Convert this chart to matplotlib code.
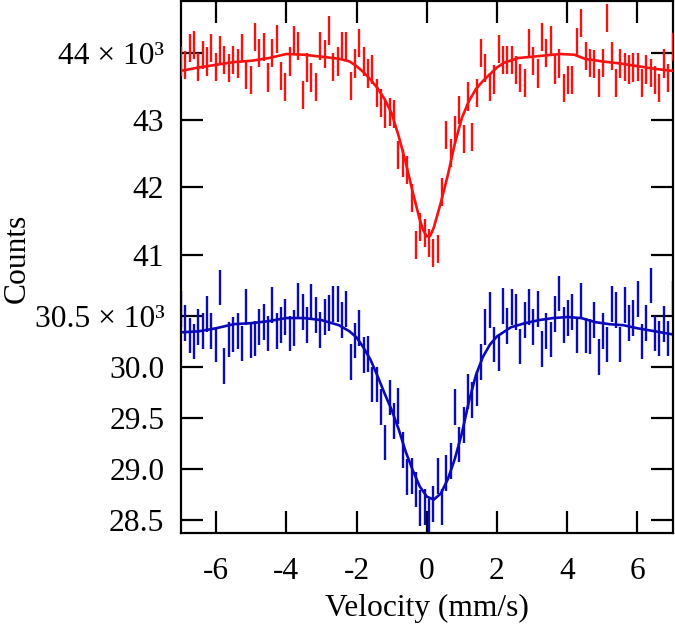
import numpy as np
import matplotlib
matplotlib.use("Agg")
import matplotlib.pyplot as plt
from matplotlib.ticker import FixedLocator, FixedFormatter

# ---------------- data (counts in units of 10^3) ----------------
n_channels = 114
velocity = np.linspace(-7.0, 7.0, n_channels)

red_counts = [
    43.87, 43.82, 44.07, 44.11, 43.79, 43.97, 43.87, 44.07, 43.79, 44.04,
    43.89, 43.77, 43.89, 43.84, 44.07, 43.67, 43.59, 44.23, 43.99, 44.08,
    43.63, 44.00, 44.20, 43.65, 43.49, 43.87, 44.18, 44.10, 43.37, 43.78,
    43.63, 43.49, 44.10, 43.98, 44.33, 43.79, 43.87, 44.10,
    44.09, 43.51, 43.84, 44.14, 43.87, 43.69, 43.75, 43.40, 43.25, 43.09,
    43.12, 43.09, 42.48, 42.36, 42.26, 41.84, 41.14, 41.41, 41.32, 41.17,
    41.02, 41.08, 41.93, 42.78, 42.51, 42.85, 43.15, 42.72, 43.35, 42.75,
    43.40, 43.99, 43.77, 43.49, 43.60, 44.05, 43.89, 43.89,
    43.89, 43.74, 43.62, 43.55, 44.14, 43.88, 43.69, 44.23, 43.99, 44.19,
    43.75, 43.84, 43.47, 43.59, 43.59, 44.16, 44.44, 43.95, 43.85, 43.83,
    43.55, 43.85, 44.51, 43.95, 43.55, 43.84, 43.79, 43.75, 43.78, 43.79,
    43.55, 43.75, 43.70, 43.59, 43.47, 43.84, 43.62, 44.08,
]
blue_counts = [
    30.57, 30.43, 30.31, 30.25, 30.39, 30.35, 30.52, 30.35, 30.22, 30.78,
    30.01, 30.27, 30.32, 30.35, 30.23, 30.59, 30.26, 30.28, 30.39, 30.44,
    30.33, 30.61, 30.35, 30.41, 30.49, 30.33, 30.38, 30.65, 30.54, 30.41,
    30.64, 30.51, 30.36, 30.49, 30.53, 30.62, 30.62, 30.46,
    30.57, 30.05, 30.26, 30.38, 30.12, 30.13, 29.83, 29.83, 29.61, 29.26,
    29.70, 29.47, 29.62, 29.19, 28.92, 28.93, 28.80, 28.62, 28.63, 28.53,
    28.66, 28.93, 28.63, 28.96, 29.08, 29.61, 29.24, 29.43, 29.76, 29.68,
    29.79, 30.05, 30.39, 30.56, 30.22, 30.14, 30.60, 30.40,
    30.59, 30.54, 30.20, 30.46, 30.59, 30.39, 30.57, 30.18, 30.35, 30.27,
    30.52, 30.72, 30.41, 30.48, 30.54, 30.31, 30.65, 30.31, 30.30, 30.46,
    30.10, 30.35, 30.22, 30.62, 30.56, 30.22, 30.61, 30.43, 30.48, 30.67,
    30.25, 30.43, 30.80, 30.33, 30.28, 30.42, 30.28, 30.67,
]
red_err = 0.21
blue_err = 0.175

red_fit_v = [-7.0, -6.5, -6.0, -5.5, -5.0, -4.5, -4.0, -3.5, -3.0, -2.5, -2.2,
             -2.0, -1.8, -1.6, -1.4, -1.2, -1.0, -0.8, -0.6, -0.4, -0.2, -0.1,
             0.0, 0.1, 0.2, 0.4, 0.6, 0.8, 1.0, 1.2, 1.4, 1.6, 1.8, 2.0, 2.2,
             2.6, 3.0, 3.4, 3.8, 4.2, 4.5, 5.0, 5.5, 6.0, 6.5, 7.0]
red_fit = [43.73, 43.78, 43.82, 43.86, 43.88, 43.92, 43.98, 43.97, 43.94, 43.91, 43.87,
           43.80, 43.71, 43.60, 43.47, 43.31, 43.10, 42.76, 42.37, 41.93, 41.52, 41.36,
           41.27, 41.28, 41.40, 41.77, 42.18, 42.65, 43.03, 43.28, 43.46, 43.58, 43.68, 43.78, 43.85,
           43.92, 43.94, 43.96, 43.98, 43.97, 43.91, 43.87, 43.84, 43.80, 43.76, 43.73]

blue_fit_v = [-7.0, -6.5, -6.0, -5.5, -5.0, -4.5, -4.0, -3.5, -3.0, -2.5, -2.2,
              -2.0, -1.8, -1.6, -1.4, -1.2, -1.0, -0.8, -0.6, -0.4, -0.2, 0.0,
              0.2, 0.4, 0.6, 0.8, 1.0, 1.2, 1.4, 1.6, 1.8, 2.0, 2.4, 2.8, 3.2,
              3.6, 4.0, 4.4, 4.8, 5.2, 5.6, 6.0, 6.5, 7.0]
blue_fit = [30.34, 30.35, 30.38, 30.42, 30.43, 30.45, 30.48, 30.48, 30.46, 30.41, 30.35,
            30.29, 30.19, 30.07, 29.91, 29.74, 29.58, 29.39, 29.17, 28.99, 28.83, 28.73,
            28.70, 28.76, 28.90, 29.10, 29.35, 29.66, 29.92, 30.10, 30.22, 30.30, 30.39, 30.43, 30.46,
            30.48, 30.49, 30.48, 30.44, 30.42, 30.41, 30.38, 30.35, 30.32]

x_ticks = [-6, -4, -2, 0, 2, 4, 6]
x_tick_labels = ["-6", "-4", "-2", "0", "2", "4", "6"]
red_ticks = [41, 42, 43, 44]
red_tick_labels = ["41", "42", "43", "44 \u00d7 10\u00b3"]
blue_ticks = [28.5, 29.0, 29.5, 30.0, 30.5]
blue_tick_labels = ["28.5", "29.0", "29.5", "30.0", "30.5 \u00d7 10\u00b3"]

RED = "#f51212"
BLUE = "#0a0ab8"
FS = 22.7

plt.rcParams["font.family"] = ["Liberation Serif", "DejaVu Serif"]
plt.rcParams["axes.unicode_minus"] = False

fig = plt.figure(figsize=(6.75, 6.25), dpi=100)
rect = [181 / 675, 92 / 625, 491.5 / 675, 532 / 625]
axb = fig.add_axes(rect)
axr = fig.add_axes(rect, sharex=axb)
axr.patch.set_visible(False)
for s in axr.spines.values():
    s.set_visible(False)
for s in axb.spines.values():
    s.set_linewidth(1.6)

axb.errorbar(velocity, blue_counts, yerr=blue_err, fmt="none", ecolor=BLUE,
             elinewidth=1.7, capsize=0)
axb.plot(blue_fit_v, blue_fit, color=BLUE, lw=1.9)
axr.errorbar(velocity, red_counts, yerr=red_err, fmt="none", ecolor=RED,
             elinewidth=1.7, capsize=0)
axr.plot(red_fit_v, red_fit, color=RED, lw=1.9)

axb.set_xlim(-7, 7)
axb.xaxis.set_major_locator(FixedLocator(x_ticks))
axb.xaxis.set_major_formatter(FixedFormatter(x_tick_labels))
axb.tick_params(axis="x", direction="in", top=True, bottom=True, length=16,
                width=1.6, pad=17, labelsize=FS)
axr.tick_params(axis="x", bottom=False, top=False, labelbottom=False)

axb.set_ylim(28.373, 33.588)
axb.yaxis.set_major_locator(FixedLocator(blue_ticks))
axb.yaxis.set_major_formatter(FixedFormatter(blue_tick_labels))
axr.set_ylim(36.863, 44.768)
axr.yaxis.set_major_locator(FixedLocator(red_ticks))
axr.yaxis.set_major_formatter(FixedFormatter(red_tick_labels))
for ax in (axb, axr):
    ax.tick_params(axis="y", direction="in", left=True, right=True,
                   labelleft=True, labelright=False, length=16, width=1.6,
                   pad=12, labelsize=FS)
    ax.minorticks_off()

axb.set_xlabel("Velocity (mm/s)", fontsize=FS, labelpad=6)
fig.text(17 / 675, 1 - 258 / 625, "Counts", rotation=90, fontsize=FS,
         ha="center", va="center")

fig.savefig("out.png", dpi=100)
